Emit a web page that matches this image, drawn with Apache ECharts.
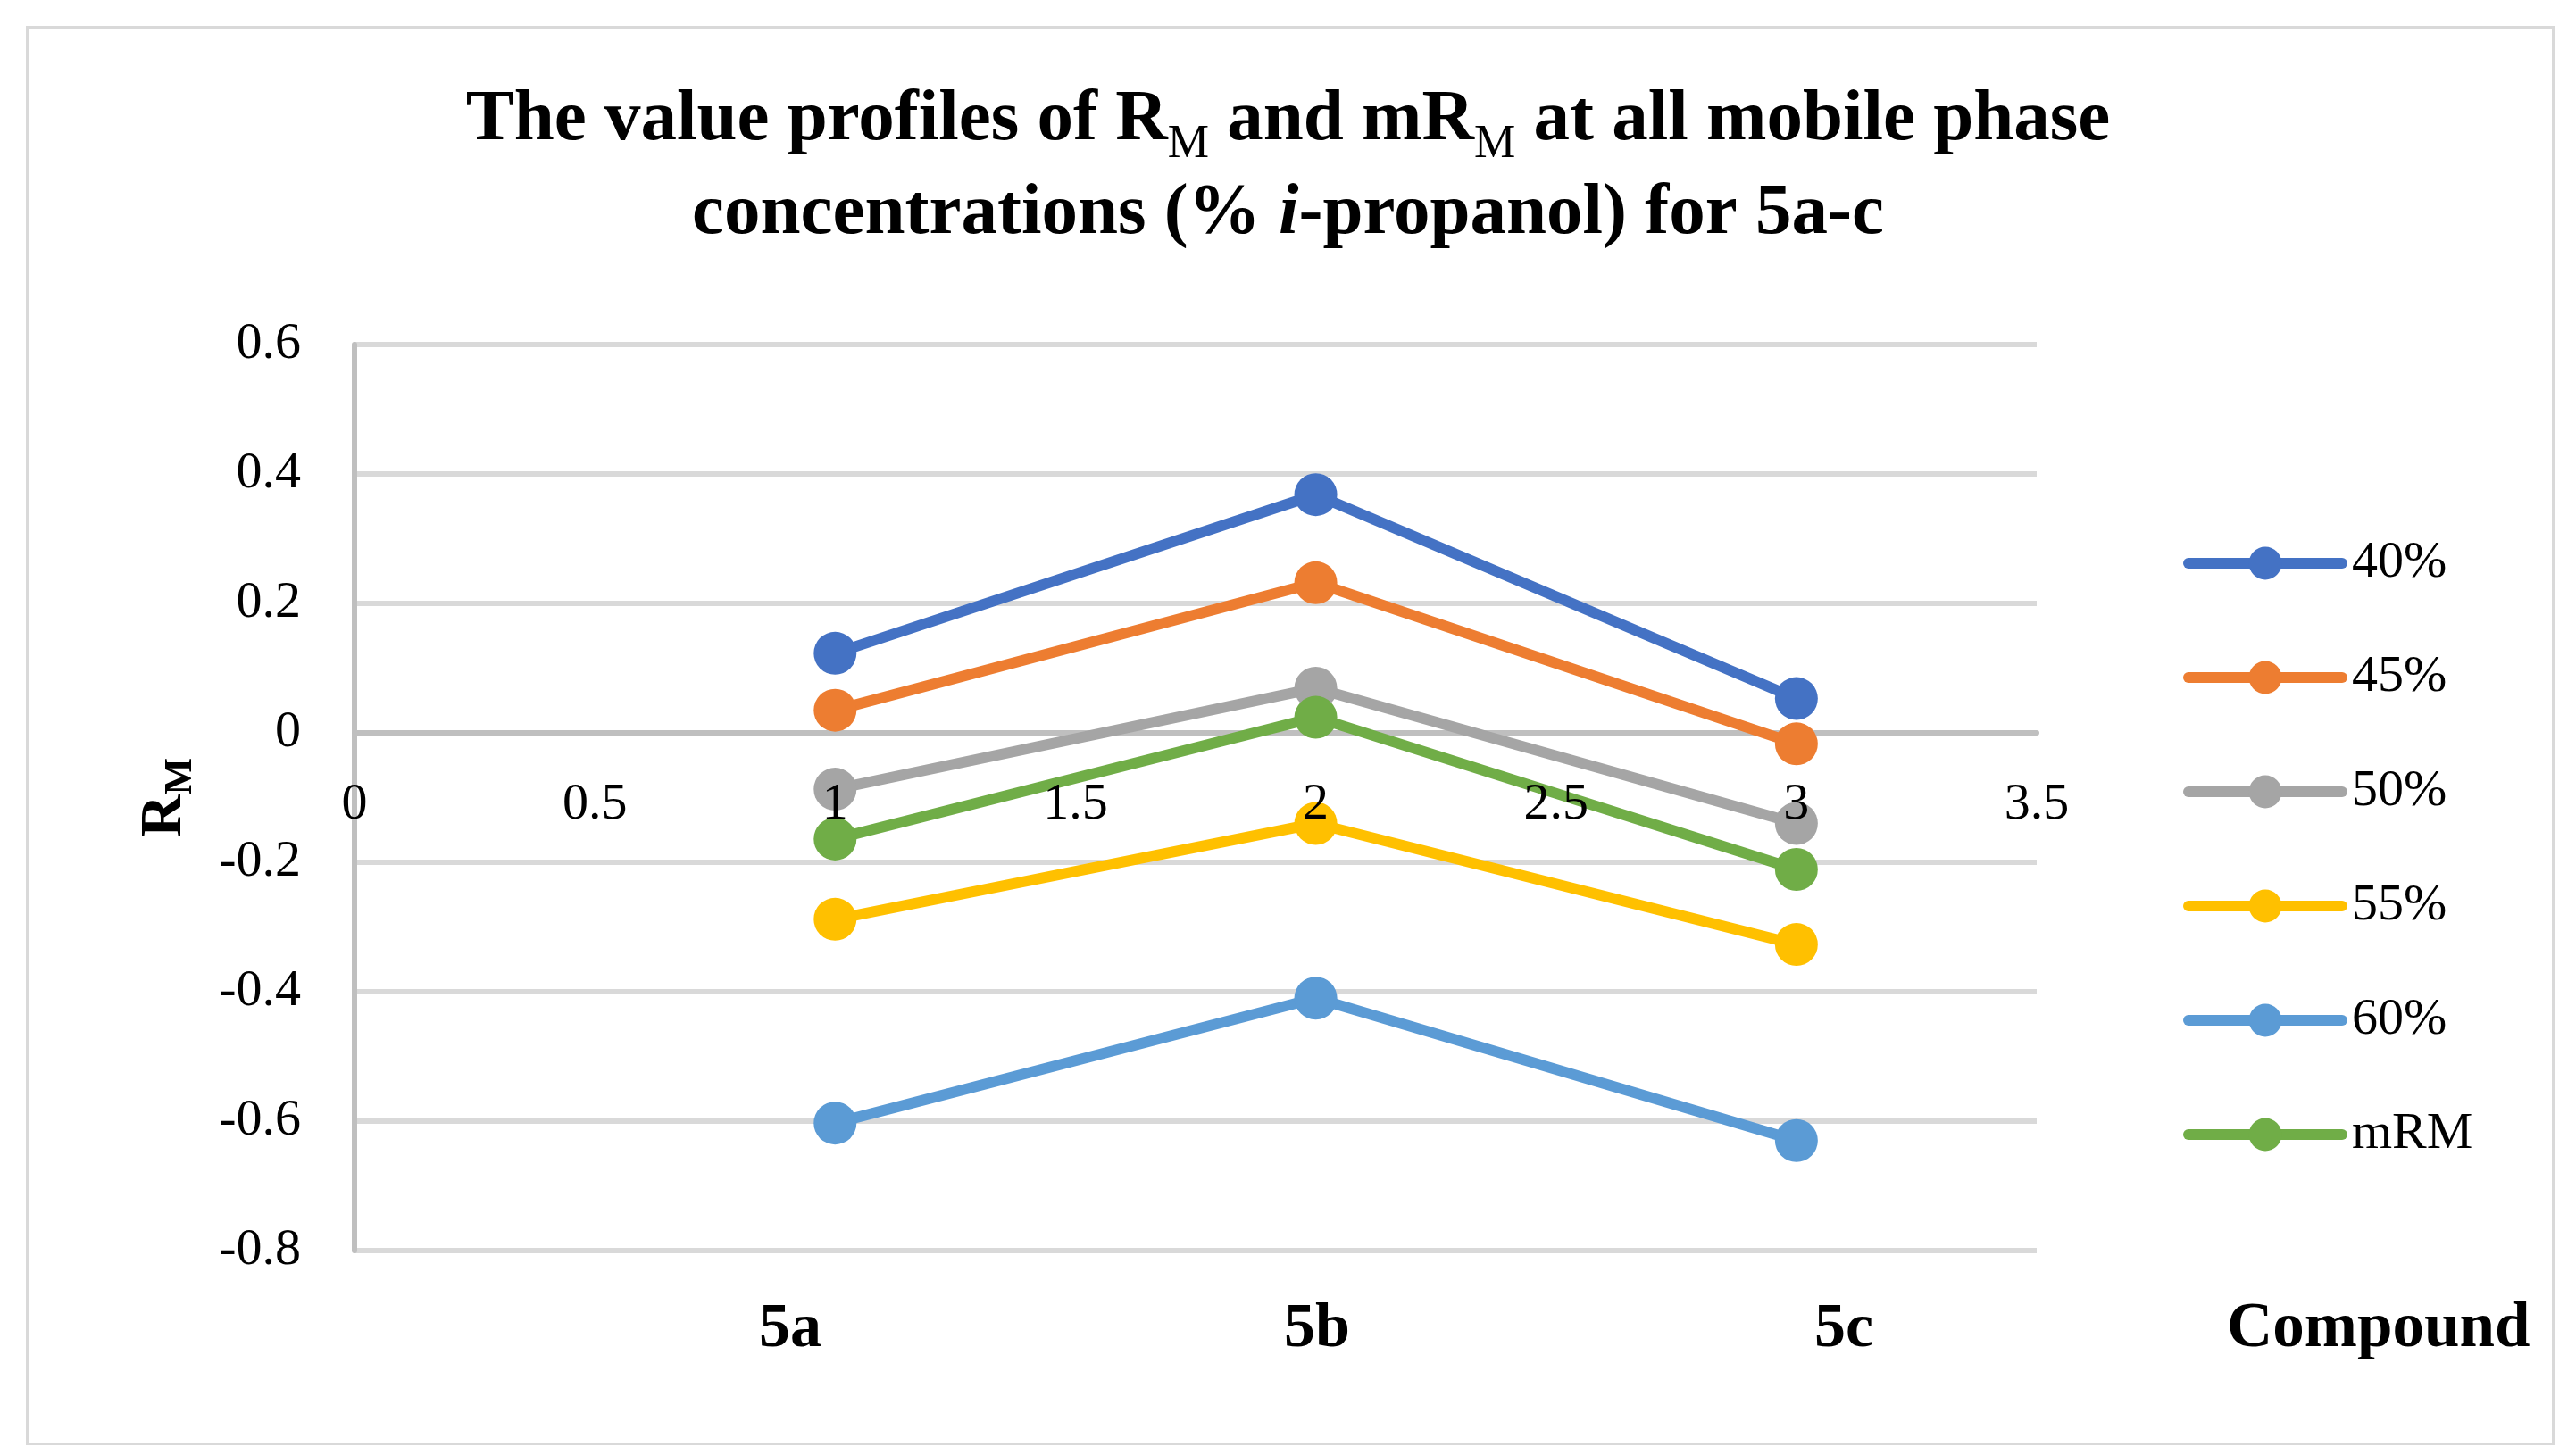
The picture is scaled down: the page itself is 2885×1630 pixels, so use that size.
<!DOCTYPE html>
<html>
<head>
<meta charset="utf-8">
<script src="https://cdn.jsdelivr.net/npm/echarts@6/dist/echarts.min.js"></script>
<style>
html,body{margin:0;padding:0;background:#fff;}
#chart{width:2885px;height:1630px;}
</style>
</head>
<body>
<div id="chart"></div>
<script>
// ---- data ----
var compounds = ['5a', '5b', '5c'];
var xPositions = [1, 2, 3];
var seriesNames = ['40%', '45%', '50%', '55%', '60%', 'mRM'];
var rm40 = [0.123, 0.368, 0.053];
var rm45 = [0.035, 0.232, -0.017];
var rm50 = [-0.087, 0.069, -0.140];
var rm55 = [-0.288, -0.140, -0.327];
var rm60 = [-0.603, -0.410, -0.630];
var mRM = [-0.164, 0.024, -0.211];
var colors = ['#4472C4', '#ED7D31', '#A5A5A5', '#FFC000', '#5B9BD5', '#70AD47'];

var FONT = '"Liberation Serif", "DejaVu Serif", serif';
var allValues = [rm40, rm45, rm50, rm55, rm60, mRM];

var series = allValues.map(function (vals, i) {
  return {
    name: seriesNames[i],
    type: 'line',
    xAxisIndex: 0,
    yAxisIndex: 0,
    data: vals.map(function (v, j) { return [xPositions[j], v]; }),
    symbol: 'circle',
    symbolSize: 48,
    lineStyle: { width: 12, color: colors[i] },
    itemStyle: { color: colors[i] },
    emphasis: { disabled: true },
    animation: false,
    z: 2 + i
  };
});

var PLOT_LEFT = 397, PLOT_RIGHT = 2281, PLOT_TOP = 386, PLOT_BOTTOM = 1401;
// y pixel of value 0 (for the value-label row that sits on the zero line)
var ZERO_Y = PLOT_TOP + (PLOT_BOTTOM - PLOT_TOP) * (0.6 / 1.4);

var chart = echarts.init(document.getElementById('chart'), null, { renderer: 'canvas' });
chart.setOption({
  backgroundColor: '#ffffff',
  animation: false,
  color: colors,
  title: {
    left: 'center',
    top: 78,
    text: '{b|The value profiles of R}{s|M}{b| and mR}{s|M}{b| at all mobile phase}\n{b|concentrations (% }{i|i}{b|-propanol) for 5a-c}',
    textStyle: {
      rich: {
        b: { fontFamily: FONT, fontWeight: 'bold', fontSize: 81, color: '#000', lineHeight: 105 },
        i: { fontFamily: FONT, fontWeight: 'bold', fontStyle: 'italic', fontSize: 81, color: '#000', lineHeight: 105 },
        s: { fontFamily: FONT, fontWeight: 'normal', fontSize: 52, color: '#000', lineHeight: 105, verticalAlign: 'bottom' }
      }
    }
  },
  legend: {
    orient: 'vertical',
    left: 2445,
    top: 602,
    itemWidth: 172,
    itemHeight: 46,
    itemGap: 70,
    padding: 0,
    data: seriesNames,
    lineStyle: { width: 12, cap: 'round' },
    textStyle: { fontFamily: FONT, fontSize: 58, color: '#000', padding: [0, 0, 0, 6] }
  },
  grid: [
    { left: PLOT_LEFT, right: 2885 - PLOT_RIGHT, top: PLOT_TOP, bottom: 1630 - PLOT_BOTTOM },
    { left: 590, width: 1770, top: 1440, height: 50 },
    { left: PLOT_LEFT, right: 2885 - PLOT_RIGHT, top: PLOT_TOP, height: ZERO_Y - PLOT_TOP }
  ],
  xAxis: [
    {
      type: 'value',
      gridIndex: 0,
      min: 0,
      max: 3.5,
      interval: 0.5,
      axisLine: { show: true, onZero: true, lineStyle: { color: '#BFBFBF', width: 6 } },
      axisTick: { show: false },
      splitLine: { show: false },
      axisLabel: { show: false }
    },
    {
      type: 'category',
      gridIndex: 1,
      data: compounds,
      boundaryGap: true,
      position: 'bottom',
      axisLine: { show: false },
      axisTick: { show: false },
      splitLine: { show: false },
      axisLabel: { fontFamily: FONT, fontWeight: 'bold', fontSize: 70, color: '#000', margin: 0, verticalAlign: 'middle' },
      name: 'Compound',
      nameLocation: 'end',
      nameGap: 134,
      nameTextStyle: { fontFamily: FONT, fontWeight: 'bold', fontSize: 71, color: '#000', align: 'left', verticalAlign: 'middle' }
    },
    {
      type: 'value',
      gridIndex: 2,
      min: 0,
      max: 3.5,
      interval: 0.5,
      position: 'bottom',
      z: 30,
      axisLine: { show: false },
      axisTick: { show: false },
      splitLine: { show: false },
      axisLabel: { fontFamily: FONT, fontSize: 58, color: '#000', margin: 52 }
    }
  ],
  yAxis: [
    {
      type: 'value',
      gridIndex: 0,
      min: -0.8,
      max: 0.6,
      interval: 0.2,
      axisLine: { show: true, onZero: false, lineStyle: { color: '#BFBFBF', width: 6 } },
      axisTick: { show: false },
      splitLine: { show: true, lineStyle: { color: '#D9D9D9', width: 6 } },
      axisLabel: {
        fontFamily: FONT, fontSize: 58, color: '#000', margin: 60,
        formatter: function (v) { return String(Math.round(v * 10) / 10); }
      },
      name: '{b|R}{s|M}',
      nameLocation: 'middle',
      nameRotate: 90,
      nameGap: 172,
      nameTextStyle: {
        rich: {
          b: { fontFamily: FONT, fontWeight: 'bold', fontSize: 66, color: '#000', lineHeight: 80 },
          s: { fontFamily: FONT, fontWeight: 'bold', fontSize: 44, color: '#000', lineHeight: 80, verticalAlign: 'bottom' }
        }
      }
    },
    { type: 'value', gridIndex: 1, show: false },
    { type: 'value', gridIndex: 2, show: false }
  ],
  graphic: [
    {
      type: 'rect',
      left: 28, top: 28,
      shape: { width: 2829, height: 1587 },
      style: { fill: 'none', stroke: '#D9D9D9', lineWidth: 3 },
      silent: true, z: -10
    }
  ],
  series: series
});
</script>
</body>
</html>
